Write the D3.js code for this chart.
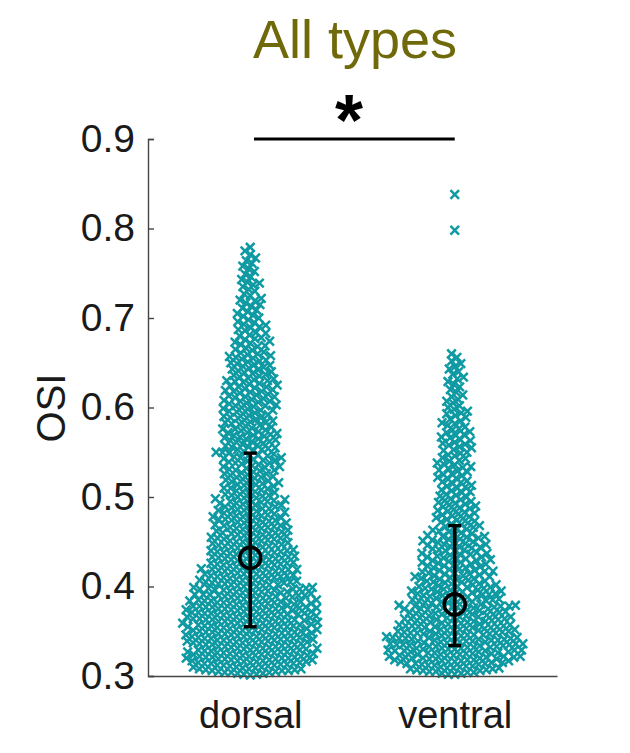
<!DOCTYPE html>
<html>
<head>
<meta charset="utf-8">
<script src="https://cdn.jsdelivr.net/npm/d3@7"></script>
<style>
  html, body { margin: 0; background: #fff; }
  text { font-family: "Liberation Sans", Arial, sans-serif; }
</style>
</head>
<body>
<div id="chart"></div>
<script>
const categories = ["dorsal", "ventral"];
const yTicks = [0.3, 0.4, 0.5, 0.6, 0.7, 0.8, 0.9];

// OSI of each cell (each row is 0.02 wide)
const dorsalOsi = [
  .301,.302,.302,.303,.303,.304,.304,.304,.305,.305,.306,.306,.306,.307,.307,.308,.308,.308,.309,.309,.310,.310,.310,.311,.311,.312,.312,.312,.313,.313,.314,.314,.314,.315,.315,.315,.316,.316,.316,.317,.317,.317,.318,.318,.318,.319,.319,.319,
  .320,.320,.320,.321,.321,.321,.322,.322,.322,.323,.323,.323,.324,.324,.324,.325,.325,.325,.326,.326,.326,.327,.327,.327,.328,.328,.328,.329,.329,.329,.330,.330,.330,.331,.331,.331,.332,.332,.333,.333,.333,.334,.334,.335,.335,.335,.336,.336,.336,.337,.337,.337,.338,.338,.338,.339,.339,.339,
  .340,.340,.340,.341,.341,.341,.342,.342,.342,.343,.343,.343,.344,.344,.344,.345,.345,.345,.346,.346,.346,.347,.347,.347,.348,.348,.348,.349,.349,.349,.350,.350,.350,.351,.351,.351,.352,.352,.352,.353,.353,.353,.354,.354,.354,.355,.355,.355,.356,.356,.356,.357,.357,.357,.358,.358,.358,.359,.359,.359,
  .360,.360,.360,.361,.361,.361,.362,.362,.362,.363,.363,.363,.364,.364,.364,.365,.365,.365,.366,.366,.366,.367,.367,.367,.368,.368,.368,.369,.369,.369,.370,.370,.370,.371,.371,.371,.372,.372,.372,.373,.373,.373,.374,.374,.374,.375,.375,.375,.376,.376,.376,.377,.377,.377,.378,.378,.378,.379,.379,.379,
  .380,.380,.380,.381,.381,.381,.382,.382,.382,.383,.383,.384,.384,.384,.385,.385,.385,.386,.386,.387,.387,.387,.388,.388,.388,.389,.389,.390,.390,.390,.391,.391,.391,.392,.392,.393,.393,.393,.394,.394,.394,.395,.395,.396,.396,.396,.397,.397,.397,.398,.398,.399,.399,.399,
  .400,.400,.401,.401,.402,.402,.402,.403,.403,.404,.404,.405,.405,.406,.406,.407,.407,.407,.408,.408,.409,.409,.410,.410,.411,.411,.412,.412,.413,.413,.414,.414,.414,.415,.415,.416,.416,.417,.417,.418,.418,.419,.419,.419,
  .420,.420,.421,.421,.422,.422,.423,.423,.424,.424,.425,.425,.426,.426,.427,.427,.428,.428,.429,.429,.430,.430,.431,.431,.432,.432,.433,.433,.434,.434,.435,.435,.436,.436,.437,.437,.438,.438,.439,.439,
  .440,.440,.441,.441,.442,.443,.443,.444,.444,.445,.445,.446,.446,.447,.448,.448,.449,.449,.450,.450,.451,.451,.452,.453,.453,.454,.454,.455,.455,.456,.456,.457,.458,.458,.459,.459,
  .460,.460,.461,.462,.462,.463,.463,.464,.465,.465,.466,.466,.467,.468,.468,.469,.469,.470,.471,.471,.472,.472,.473,.474,.474,.475,.475,.476,.477,.477,.478,.478,.479,.479,
  .480,.481,.481,.482,.483,.483,.484,.485,.485,.486,.487,.487,.488,.489,.489,.490,.491,.491,.492,.493,.493,.494,.495,.495,.496,.497,.497,.498,.499,.499,
  .500,.501,.502,.502,.503,.504,.505,.506,.506,.507,.508,.509,.510,.510,.511,.512,.513,.514,.514,.515,.516,.517,.518,.518,.519,
  .520,.521,.522,.522,.523,.524,.525,.526,.526,.527,.528,.529,.530,.530,.531,.532,.533,.534,.534,.535,.536,.537,.538,.538,.539,
  .540,.541,.541,.542,.543,.544,.544,.545,.546,.547,.547,.548,.549,.550,.550,.551,.552,.553,.553,.554,.555,.556,.556,.557,.558,.559,
  .560,.561,.562,.562,.563,.564,.565,.565,.566,.567,.568,.569,.569,.570,.571,.572,.572,.573,.574,.575,.576,.576,.577,.578,.579,
  .580,.581,.582,.583,.583,.584,.585,.586,.587,.588,.589,.590,.590,.591,.592,.593,.594,.595,.596,.597,.597,.598,.599,
  .600,.601,.602,.602,.603,.604,.605,.606,.607,.607,.608,.609,.610,.611,.612,.612,.613,.614,.615,.616,.617,.618,.618,.619,
  .620,.621,.622,.623,.623,.624,.625,.626,.627,.628,.629,.630,.630,.631,.632,.633,.634,.635,.636,.637,.638,.639,
  .640,.641,.642,.643,.644,.645,.646,.647,.648,.649,.650,.651,.652,.653,.654,.655,.656,.657,.658,.659,
  .660,.661,.662,.664,.665,.666,.668,.669,.670,.672,.673,.674,.676,.677,.678,
  .680,.681,.683,.684,.686,.687,.689,.690,.692,.693,.695,.696,.698,
  .700,.702,.703,.705,.707,.709,.711,.713,.715,.717,.719,
  .720,.722,.725,.727,.730,.732,.735,.737,.739,
  .740,.743,.746,.749,.752,.755,.758,
  .761,.764,.767,.771,.775,.779
];

const ventralOsi = [
  .302,.302,.303,.303,.304,.304,.305,.305,.306,.306,.307,.307,.308,.308,.309,.309,.309,.310,.310,.311,.311,.312,.312,.313,.313,.314,.314,.314,.315,.315,.316,.316,.316,.317,.317,.317,.318,.318,.318,.319,.319,.319,
  .320,.320,.320,.321,.321,.321,.322,.322,.322,.323,.323,.323,.324,.324,.324,.325,.325,.325,.326,.326,.326,.327,.327,.327,.328,.328,.328,.329,.329,.329,.330,.330,.330,.331,.331,.331,.332,.332,.332,.333,.333,.333,.334,.334,.334,.335,.335,.335,.336,.336,.336,.337,.337,.337,.338,.338,.338,.339,.339,.339,
  .340,.340,.340,.341,.341,.341,.342,.342,.342,.343,.343,.343,.344,.344,.344,.345,.345,.346,.346,.346,.347,.347,.347,.348,.348,.348,.349,.349,.350,.350,.350,.351,.351,.351,.352,.352,.352,.353,.353,.354,.354,.354,.355,.355,.355,.356,.356,.356,.357,.357,.358,.358,.358,.359,.359,
  .360,.360,.361,.361,.361,.362,.362,.363,.363,.364,.364,.364,.365,.365,.366,.366,.366,.367,.367,.368,.368,.369,.369,.369,.370,.370,.371,.371,.372,.372,.372,.373,.373,.374,.374,.375,.375,.375,.376,.376,.377,.377,.378,.378,.378,.379,.379,.379,
  .380,.380,.381,.381,.382,.382,.383,.383,.384,.384,.385,.385,.386,.386,.387,.387,.388,.388,.389,.389,.390,.390,.391,.391,.392,.392,.393,.393,.394,.394,.395,.395,.396,.396,.397,.397,.398,.398,.399,.399,
  .400,.400,.401,.402,.402,.403,.403,.404,.405,.405,.406,.406,.407,.408,.408,.409,.409,.410,.411,.411,.412,.412,.413,.414,.414,.415,.415,.416,.417,.417,.418,.418,.419,
  .420,.421,.421,.422,.423,.423,.424,.425,.425,.426,.427,.427,.428,.429,.429,.430,.431,.431,.432,.433,.433,.434,.435,.435,.436,.437,.437,.438,.439,
  .440,.441,.441,.442,.443,.444,.444,.445,.446,.447,.447,.448,.449,.450,.450,.451,.452,.453,.453,.454,.455,.456,.456,.457,.458,.459,
  .460,.461,.462,.463,.464,.465,.466,.467,.468,.469,.470,.471,.472,.473,.474,.475,.476,.477,.478,.479,
  .480,.481,.482,.483,.484,.485,.486,.487,.488,.489,.490,.491,.492,.493,.494,.495,.496,.497,.498,
  .500,.501,.502,.503,.505,.506,.507,.508,.510,.511,.512,.513,.515,.516,.517,.518,
  .520,.521,.522,.524,.525,.526,.528,.529,.530,.532,.533,.534,.536,.537,.538,
  .540,.541,.543,.544,.546,.547,.549,.550,.552,.553,.555,.556,.558,.559,
  .560,.561,.563,.564,.566,.567,.569,.570,.572,.573,.575,.576,.578,
  .580,.582,.583,.585,.587,.589,.591,.593,.594,.596,.598,
  .600,.602,.605,.607,.609,.612,.614,.617,
  .620,.623,.626,.629,.632,.634,.637,
  .640,.643,.646,.649,.652,
  .656,.660,
  .798,.838
];

// median and quartiles drawn over each swarm
const medians = [0.432, 0.380];
const lowerQ = [0.355, 0.334];
const upperQ = [0.549, 0.468];

const width = 630, height = 753;
const teal = "#0f9aa3";

const svg = d3.select("#chart").append("svg")
  .attr("width", width)
  .attr("height", height)
  .style("display", "block");

const x = d3.scaleLinear().domain([0.5, 2.5]).range([148, 557]);
const y = d3.scaleLinear().domain([0.3, 0.9]).range([676, 139]);

// simple beeswarm: every point goes as close to the centre as it can
function swarm(values, minDist) {
  const placed = [];
  values.slice().sort(d3.ascending).forEach(v => {
    const py = y(v);
    const near = placed.filter(p => Math.abs(p.y - py) < minDist);
    const candidates = [0];
    near.forEach(p => {
      const off = Math.sqrt(minDist * minDist - (p.y - py) * (p.y - py));
      candidates.push(p.x - off, p.x + off);
    });
    candidates.sort((a, b) => Math.abs(a) - Math.abs(b));
    const ok = candidates.find(c => near.every(p =>
      (p.x - c) * (p.x - c) + (p.y - py) * (p.y - py) >= minDist * minDist - 0.001));
    placed.push({ x: ok, y: py });
  });
  return placed;
}

[dorsalOsi, ventralOsi].forEach((values, i) => {
  const cx = x(i + 1);
  svg.append("g").selectAll("path")
    .data(swarm(values, 6.4))
    .join("path")
    .attr("transform", d => `translate(${cx + d.x},${d.y})`)
    .attr("d", "M-4.3,-4.3L4.3,4.3M-4.3,4.3L4.3,-4.3")
    .attr("stroke", teal)
    .attr("stroke-width", 2.5)
    .attr("fill", "none");
});

// axes
const yAxis = svg.append("g")
  .attr("transform", `translate(${x(0.5)},0)`)
  .call(d3.axisLeft(y).tickValues(yTicks).tickFormat(d3.format(".1f")).tickSize(-6).tickPadding(13));
yAxis.selectAll("text").attr("font-size", 39).attr("fill", "#1a1a1a");
yAxis.selectAll("line, path").attr("stroke", "#444").attr("stroke-width", 1.4);

const xAxis = svg.append("g")
  .attr("transform", `translate(0,${y(0.3)})`)
  .call(d3.axisBottom(x).tickValues([1, 2]).tickFormat((d, i) => categories[i]).tickSize(0).tickPadding(25));
xAxis.selectAll("text").attr("font-size", 38).attr("fill", "#1a1a1a");
xAxis.selectAll("path").attr("stroke", "#444").attr("stroke-width", 1.4);

// median circle and quartile bars
categories.forEach((c, i) => {
  const cx = x(i + 1);
  const g = svg.append("g").attr("stroke", "#000").attr("fill", "none");
  g.append("line").attr("x1", cx).attr("x2", cx).attr("y1", y(lowerQ[i])).attr("y2", y(upperQ[i])).attr("stroke-width", 3.6);
  [lowerQ[i], upperQ[i]].forEach(q => {
    g.append("line").attr("x1", cx - 6.5).attr("x2", cx + 6.5).attr("y1", y(q)).attr("y2", y(q)).attr("stroke-width", 3.4);
  });
  g.append("circle").attr("cx", cx).attr("cy", y(medians[i])).attr("r", 10.5).attr("stroke-width", 3.6);
});

// significance bar
svg.append("line")
  .attr("x1", 254).attr("x2", x(2))
  .attr("y1", y(0.9)).attr("y2", y(0.9))
  .attr("stroke", "#000").attr("stroke-width", 3);
svg.append("text")
  .attr("x", 349).attr("y", 145)
  .attr("text-anchor", "middle")
  .attr("font-size", 72).attr("font-weight", "bold")
  .text("*");

svg.append("text")
  .attr("x", 355).attr("y", 58)
  .attr("text-anchor", "middle")
  .attr("font-size", 54)
  .attr("fill", "#70690a")
  .text("All types");

svg.append("text")
  .attr("transform", "translate(65,408) rotate(-90)")
  .attr("text-anchor", "middle")
  .attr("font-size", 40)
  .attr("fill", "#1a1a1a")
  .text("OSI");
</script>
</body>
</html>
